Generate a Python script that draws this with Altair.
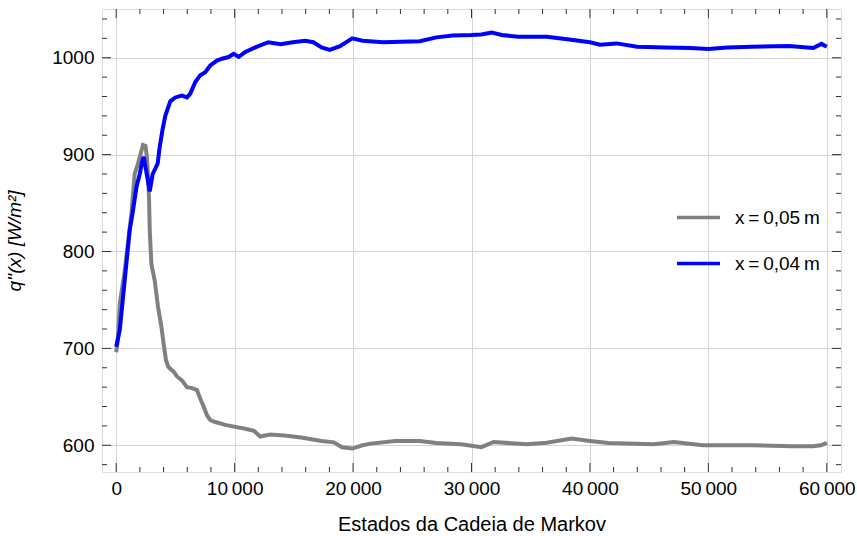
import altair as alt
import pandas as pd

# ---- data ----
gray_x = [0, 150, 300, 720, 1280, 1560, 1820, 2130, 2260, 2470, 2600, 2770, 2830, 2970,
          3250, 3530, 3820, 4000, 4200, 4400, 4660, 4849, 5130, 5552, 5975, 6397, 6819,
          7100, 7382, 7664, 7945, 8367, 9212, 10056, 10900, 11630, 12150, 13010, 14220,
          15600, 17340, 18380, 19070, 19930, 20800, 21490, 23560, 25640, 27030, 29100,
          30830, 31870, 34640, 36360, 38440, 40000, 41560, 45360, 47090, 49510, 53670,
          57130, 58860, 59500, 60000]
gray_y = [696, 710, 746, 780, 839, 880, 890, 904, 910, 909, 897, 856, 822, 787,
          770, 743, 722, 705, 688, 681, 678, 676, 671, 667, 660, 659, 657,
          648, 640, 631, 626, 624, 621, 619, 617, 615, 609, 611, 610,
          608, 604.5, 603, 598, 596.6, 600, 601.7, 604.5, 604.5, 602.4, 601,
          598, 603.4, 601, 602.7, 607, 604.5, 602.4, 601, 603.4, 600, 600,
          599, 599, 600, 602.4]

blue_x = [0, 300, 720, 1140, 1420, 1710, 1990, 2180, 2320, 2550, 2830, 3080, 3500, 3650,
          3900, 4145, 4567, 4989, 5552, 5975, 6256, 6678, 7100, 7523, 7945, 8508, 8930,
          9493, 9916, 10338, 10900, 11800, 12840, 13880, 14900, 15950, 16650, 17340,
          18030, 18900, 19930, 20800, 22530, 25640, 27030, 28410, 30000, 30830, 31700,
          32560, 33940, 36360, 38090, 40000, 40860, 42250, 43980, 46400, 48480, 50000,
          51590, 53670, 56780, 58860, 59550, 60000]
blue_y = [701.7, 719, 770.5, 822, 842.5, 866.6, 880, 892.4, 897.6, 882, 862, 880, 890.7, 906,
          925, 940, 955, 959, 961, 959, 963, 975, 982, 985, 992, 997, 999,
          1000.7, 1004, 1001, 1006, 1011, 1016, 1014, 1016, 1017.5, 1016, 1010.6,
          1008, 1012, 1020, 1017.5, 1016, 1017, 1021, 1023, 1023.5, 1024, 1026,
          1023.5, 1021.6, 1021.6, 1019, 1016, 1013.4, 1014.8, 1011.3, 1010.6, 1010, 1009,
          1010.6, 1011.3, 1012, 1010, 1014.3, 1011.3]

series_names = ["x\u2009=\u20090,05\u2009m", "x\u2009=\u20090,04\u2009m"]
series_colors = ["#808080", "#0000ff"]

x_major = [0, 10000, 20000, 30000, 40000, 50000, 60000]
x_minor = [v for v in range(0, 61000, 2000) if v not in x_major]
y_major = [600, 700, 800, 900, 1000]
y_minor = [v for v in range(580, 1050, 20) if v not in y_major]

x_domain = [-1200, 61200]
y_domain = [572.4, 1050.3]

W, H = 739, 463
FONT = "Liberation Sans"

gray_df = pd.DataFrame({"x": gray_x, "y": gray_y, "s": series_names[0]})
blue_df = pd.DataFrame({"x": blue_x, "y": blue_y, "s": series_names[1]})

xs = alt.Scale(domain=x_domain, nice=False, zero=False)
ys = alt.Scale(domain=y_domain, nice=False, zero=False)
cs = alt.Scale(domain=series_names, range=series_colors)

label_expr = "replace(format(datum.value, ','), ',', '\u2009')"

x_axis = alt.Axis(values=x_major, grid=True, gridColor="#d4d4d4", gridWidth=1,
                  ticks=False, tickSize=0, domain=False, labelPadding=7,
                  labelFontSize=19, labelFont=FONT, labelColor="#000",
                  labelExpr=label_expr,
                  title="Estados da Cadeia de Markov", titleFont=FONT,
                  titleFontSize=20, titleFontWeight="normal", titleColor="#000",
                  titlePadding=16)
y_axis = alt.Axis(values=y_major, grid=True, gridColor="#d4d4d4", gridWidth=1,
                  ticks=False, tickSize=0, domain=False, labelPadding=8,
                  format="d",
                  labelFontSize=19, labelFont=FONT, labelColor="#000",
                  title="q''(x) [W/m²]", titleFont=FONT, titleFontSize=19,
                  titleFontWeight="normal", titleFontStyle="italic",
                  titleColor="#000", titlePadding=27)

legend = alt.Legend(title=None, orient="none", legendX=573, legendY=185,
                    symbolType="stroke", symbolSize=1849, symbolStrokeWidth=3.5,
                    labelFontSize=19, labelFont=FONT, labelColor="#000",
                    labelOffset=13, rowPadding=12, padding=0)

gray_line = alt.Chart(gray_df).mark_line(strokeWidth=4).encode(
    x=alt.X("x:Q", scale=xs, axis=x_axis),
    y=alt.Y("y:Q", scale=ys, axis=y_axis),
    color=alt.Color("s:N", scale=cs, legend=legend),
)
blue_line = alt.Chart(blue_df).mark_line(strokeWidth=4).encode(
    x=alt.X("x:Q", scale=xs),
    y=alt.Y("y:Q", scale=ys),
    color=alt.Color("s:N", scale=cs, legend=legend),
)

tick_color = "#333333"

def xticks(vals, length):
    df = pd.DataFrame({"v": vals})
    base = alt.Chart(df)
    bottom = base.mark_rule(color=tick_color, strokeWidth=1).encode(
        x=alt.X("v:Q", scale=xs), y=alt.value(H), y2=alt.value(H - length))
    top = base.mark_rule(color=tick_color, strokeWidth=1).encode(
        x=alt.X("v:Q", scale=xs), y=alt.value(0), y2=alt.value(length))
    return [bottom, top]

def yticks(vals, length):
    df = pd.DataFrame({"v": vals})
    base = alt.Chart(df)
    left = base.mark_rule(color=tick_color, strokeWidth=1).encode(
        y=alt.Y("v:Q", scale=ys), x=alt.value(0), x2=alt.value(length))
    right = base.mark_rule(color=tick_color, strokeWidth=1).encode(
        y=alt.Y("v:Q", scale=ys), x=alt.value(W), x2=alt.value(W - length))
    return [left, right]

layers = [gray_line, blue_line] + xticks(x_major, 9) + xticks(x_minor, 5) \
    + yticks(y_major, 9) + yticks(y_minor, 5)

chart = alt.layer(*layers).properties(
    width=W, height=H,
    autosize=alt.AutoSizeParams(type="none"),
    padding={"left": 102, "top": 9, "right": 16, "bottom": 64},
).configure_view(stroke="#222222", strokeWidth=1.2).configure(background="white")

chart.save("out.html", embed_options={"renderer": "svg", "actions": False})
